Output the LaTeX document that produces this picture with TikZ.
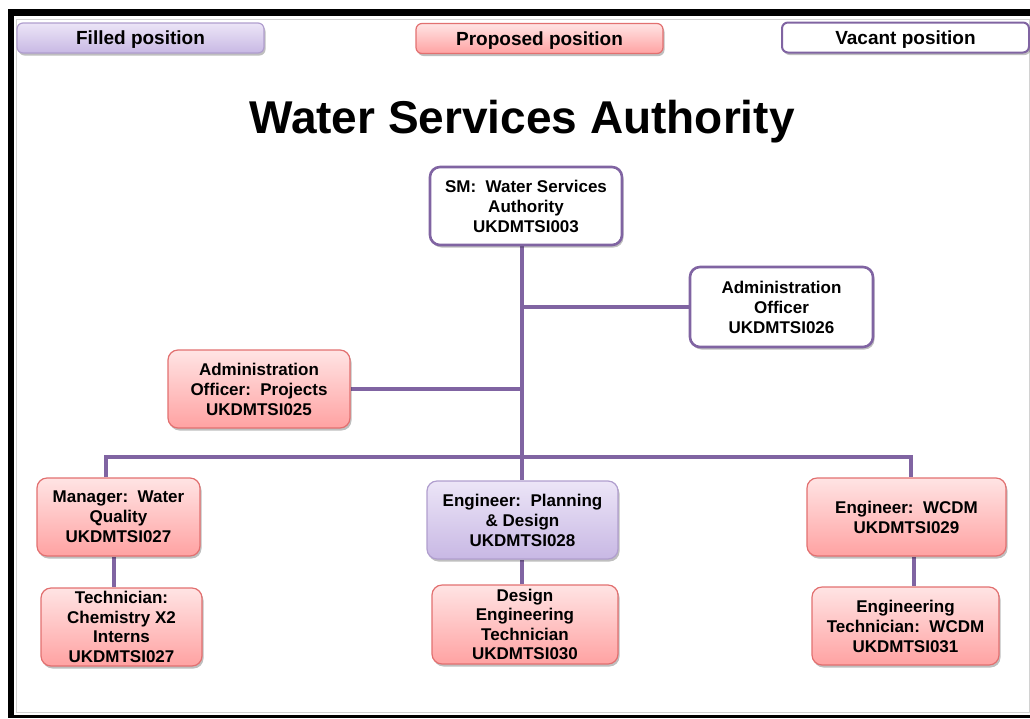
\documentclass[tikz,border=0pt]{standalone}
\usepackage{fontspec}
\setmainfont{Liberation Sans}
\usetikzlibrary{shadows,backgrounds}
\definecolor{lnpurple}{RGB}{128,100,162}
\definecolor{pinktop}{RGB}{255,228,228}
\definecolor{pinkbot}{RGB}{255,162,162}
\definecolor{pinkedge}{RGB}{226,112,112}
\definecolor{lavtop}{RGB}{236,229,247}
\definecolor{lavbot}{RGB}{200,184,228}
\definecolor{lavedge}{RGB}{176,158,206}
\definecolor{framegray}{RGB}{210,210,210}
\tikzset{
  shad/.style={drop shadow={shadow xshift=1.5pt, shadow yshift=-2.5pt, fill=black, opacity=0.25}},
  box/.style={rounded corners=10pt, inner sep=0pt, align=center,
    font=\bfseries\fontsize{17}{20}\selectfont},
  vacant/.style={box, shad, draw=lnpurple, line width=2.6pt, fill=white},
  proposed/.style={box, shad, draw=pinkedge, line width=1.2pt, top color=pinktop, bottom color=pinkbot},
  filledbox/.style={box, shad, draw=lavedge, line width=1.2pt, top color=lavtop, bottom color=lavbot},
  legend/.style={rounded corners=6pt, inner sep=0pt, minimum width=247pt, minimum height=30pt,
    text depth=0pt, font=\bfseries\fontsize{19}{22}\selectfont},
  conn/.style={draw=lnpurple, line width=4pt},
}
\begin{document}
\begin{tikzpicture}[x=1pt,y=-1pt]
\useasboundingbox (0,0) rectangle (1030,718);
% frame
\draw[framegray, line width=1pt] (16,19) -- (1029,19) -- (1029,712) -- (16,712) -- cycle;
\fill[black] (8,9) rectangle (1030,16);
\fill[black] (8,9) rectangle (14,718);
\fill[black] (8,715) rectangle (1030,718);

% legend
\node[legend, filledbox, rounded corners=6pt, font=\bfseries\fontsize{19}{22}\selectfont] (lf) at (140.5,38) {Filled position};
\node[legend, proposed, rounded corners=6pt, font=\bfseries\fontsize{19}{22}\selectfont] (lp) at (539.5,38.5) {Proposed position};
\node[legend, vacant, rounded corners=6pt, line width=2pt, font=\bfseries\fontsize{19}{22}\selectfont] (lv) at (905.5,37.5) {Vacant position};

% title
\node[font=\bfseries\fontsize{46}{50}\selectfont] (title) at (522,122) {Water Services Authority};

% boxes
\node[vacant, minimum width=192pt, minimum height=78pt] (sm) at (526,206)
  {SM:\ \ Water Services\\Authority\\UKDMTSI003};
\node[vacant, minimum width=183pt, minimum height=80pt] (ao) at (781.5,307)
  {Administration\\Officer\\UKDMTSI026};
\node[proposed, minimum width=182pt, minimum height=78pt] (ap) at (259,389)
  {Administration\\Officer:\ \ Projects\\UKDMTSI025};
\node[proposed, minimum width=163pt, minimum height=78pt] (mw) at (118.5,517)
  {Manager:\ \ Water\\Quality\\UKDMTSI027};
\node[proposed, minimum width=161pt, minimum height=78pt, font=\bfseries\fontsize{17}{19.5}\selectfont] (tc) at (121.5,627)
  {Technician:\\Chemistry X2\\Interns\\UKDMTSI027};
\node[filledbox, minimum width=191pt, minimum height=78pt] (ep) at (522.5,520)
  {Engineer:\ \ Planning\\\&~Design\\UKDMTSI028};
\node[proposed, minimum width=186pt, minimum height=79pt, font=\bfseries\fontsize{17}{19.5}\selectfont] (dt) at (525,624.5)
  {Design\\Engineering\\Technician\\UKDMTSI030};
\node[proposed, minimum width=199pt, minimum height=78pt] (ew) at (906.5,517)
  {Engineer:\ \ WCDM\\UKDMTSI029};
\node[proposed, minimum width=187pt, minimum height=78pt] (et) at (905.5,626)
  {Engineering\\Technician:\ \ WCDM\\UKDMTSI031};

% connectors
\begin{scope}[on background layer]
\coordinate (j) at (522,457);
\coordinate (bl) at (106,457);
\coordinate (br) at (911,457);
\draw[conn] (sm.south -| j) -- (ep.north -| j);
\draw[conn] (ao.west) -- (ao.west -| j);
\draw[conn] (ap.east) -- (ap.east -| j);
\draw[conn] (mw.north -| bl) -- (bl) -- (br) -- (ew.north -| br);
\draw[conn] (ep.south -| j) -- (dt.north -| j);
\draw[conn] ([xshift=-4.5pt]mw.south) -- ([xshift=-4.5pt]mw.south |- tc.north);
\draw[conn] ([xshift=7.5pt]ew.south) -- ([xshift=7.5pt]ew.south |- et.north);
\end{scope}
\end{tikzpicture}
\end{document}
